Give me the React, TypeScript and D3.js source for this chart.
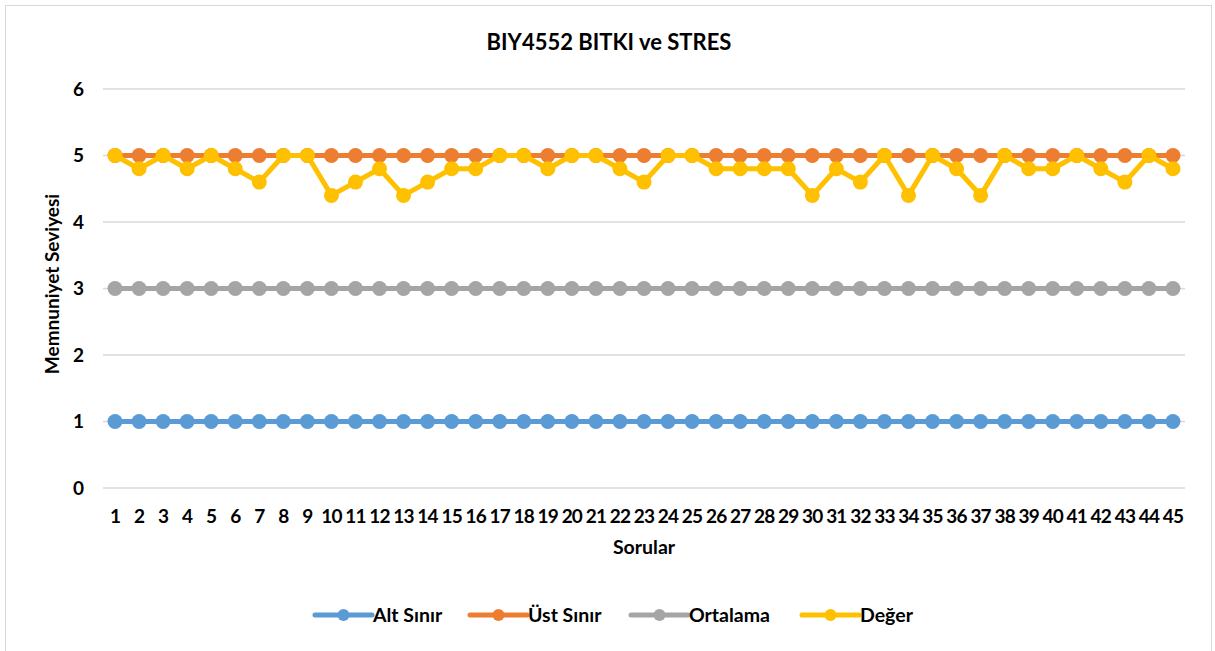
import React from "react";
import * as d3 from "d3";

const categories: string[] = Array.from({ length: 45 }, (_, i) => String(i + 1));
const altSinir: number[] = Array(45).fill(1);
const ustSinir: number[] = Array(45).fill(5);
const ortalama: number[] = Array(45).fill(3);
const deger: number[] = [
  5, 4.8, 5, 4.8, 5, 4.8, 4.6, 5, 5, 4.4,
  4.6, 4.8, 4.4, 4.6, 4.8, 4.8, 5, 5, 4.8, 5,
  5, 4.8, 4.6, 5, 5, 4.8, 4.8, 4.8, 4.8, 4.4,
  4.8, 4.6, 5, 4.4, 5, 4.8, 4.4, 5, 4.8, 4.8,
  5, 4.8, 4.6, 5, 4.8,
];
const yTicks: number[] = [0, 1, 2, 3, 4, 5, 6];

const series = [
  { name: "Alt Sınır", values: altSinir, color: "#5B9BD5" },
  { name: "Üst Sınır", values: ustSinir, color: "#ED7D31" },
  { name: "Ortalama", values: ortalama, color: "#A5A5A5" },
  { name: "Değer", values: deger, color: "#FFC000" },
];

const W = 1215;
const H = 651;
const FONT = "Lato, 'Open Sans', sans-serif";

export default function App() {
  const left = 103;
  const right = 1185;
  const top = 89;
  const bottom = 488;

  const x = d3.scalePoint<string>().domain(categories).range([left, right]).padding(0.5);
  const y = d3.scaleLinear().domain([0, 6]).range([bottom, top]);

  const line = d3
    .line<number>()
    .x((_, i) => x(categories[i]) as number)
    .y((d) => y(d));

  const legendX = [315, 470, 631, 802];
  const legendLen = 57;
  const legendY = 615;

  return (
    <svg
      width={W}
      height={H}
      style={{ position: "absolute", left: 0, top: 0, display: "block", background: "#fff" }}
      fontFamily={FONT}
    >
      <rect x={5.5} y={5.5} width={1206} height={660} fill="#fff" stroke="#D9D9D9" strokeWidth={1} />
      <text x={609} y={42} dy="0.35em" textAnchor="middle" fontSize={22} fontWeight="bold" fill="#000">
        BIY4552 BITKI ve STRES
      </text>

      {yTicks.map((t) => (
        <g key={t}>
          <line x1={left} x2={right} y1={y(t)} y2={y(t)} stroke="#D9D9D9" strokeWidth={1.3} />
          <text x={84} y={y(t)} dy="0.35em" textAnchor="end" fontSize={19} fontWeight="bold" fill="#000">
            {t}
          </text>
        </g>
      ))}

      {categories.map((c) => (
        <text
          key={c}
          x={x(c) as number}
          y={516}
          dy="0.35em"
          textAnchor="middle"
          fontSize={19}
          fontWeight="bold"
          fill="#000"
          letterSpacing={-0.8}
        >
          {c}
        </text>
      ))}

      <text x={644} y={547} dy="0.35em" textAnchor="middle" fontSize={19.5} fontWeight="bold" fill="#000">
        Sorular
      </text>
      <text
        transform={`translate(52, 284) rotate(-90)`}
        textAnchor="middle"
        dy="0.35em"
        fontSize={19}
        fontWeight="bold"
        fill="#000"
      >
        Memnuniyet Seviyesi
      </text>

      {series.map((s) => (
        <g key={s.name}>
          <path d={line(s.values) || ""} fill="none" stroke={s.color} strokeWidth={5} strokeLinejoin="round" />
          {s.values.map((v, i) => (
            <circle key={i} cx={x(categories[i]) as number} cy={y(v)} r={7.5} fill={s.color} />
          ))}
        </g>
      ))}

      {series.map((s, i) => {
        const lx = legendX[i];
        return (
          <g key={s.name}>
            <line x1={lx} x2={lx + legendLen} y1={legendY} y2={legendY} stroke={s.color} strokeWidth={5} strokeLinecap="round" />
            <circle cx={lx + legendLen / 2} cy={legendY} r={6} fill={s.color} />
            <text x={lx + legendLen + 1} y={legendY} dy="0.35em" fontSize={19.5} fontWeight="bold" fill="#000">
              {s.name}
            </text>
          </g>
        );
      })}
    </svg>
  );
}
